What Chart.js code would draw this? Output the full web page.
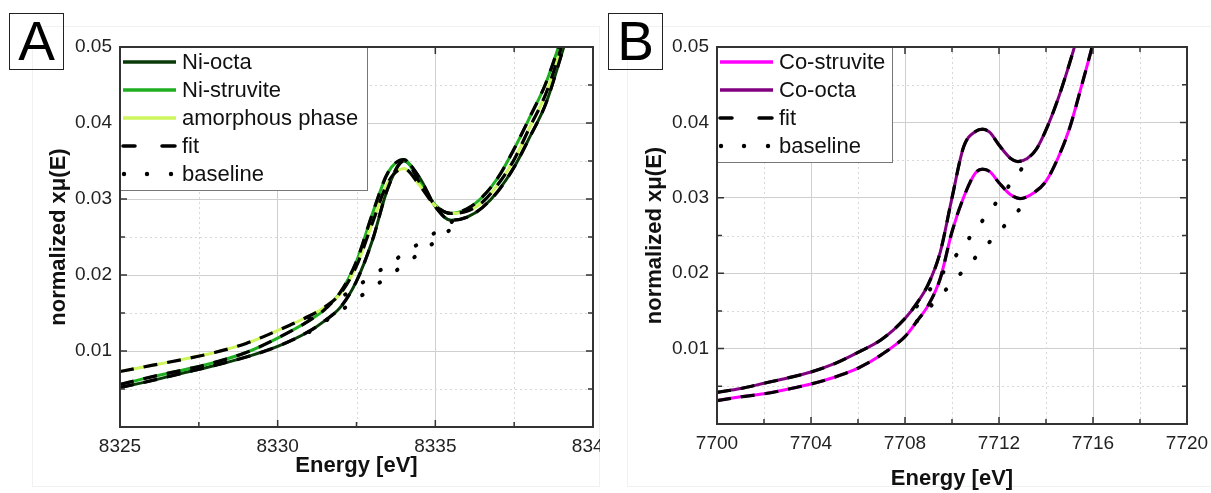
<!DOCTYPE html>
<html>
<head>
<meta charset="utf-8">
<title>XANES pre-edge fits</title>
<script src="https://cdn.jsdelivr.net/npm/chart.js@4.4.1/dist/chart.umd.min.js"></script>
<style>
  body { margin: 0; background: #fff; width: 1211px; height: 493px; position: relative; overflow: hidden; font-family: "Liberation Sans", Arial, sans-serif; }
  canvas { position: absolute; top: 0; }
  #chartA { left: 0; }
  #chartB { left: 600px; }
  .panel { position: absolute; border: 1px solid #f1f1f1; }
  .tag { position: absolute; top: 13px; width: 53px; height: 55px; border: 1.5px solid #222; font-size: 55px; line-height: 55px; text-align: center; color: #000; }
</style>
</head>
<body>
<div class="panel" style="left:32px; top:26px; width:566px; height:459px;"></div>
<div class="panel" style="left:627px; top:26px; width:600px; height:459px;"></div>
<canvas id="chartA" width="600" height="493"></canvas>
<canvas id="chartB" width="611" height="493"></canvas>
<div class="tag" style="left:9px;">A</div>
<div class="tag" style="left:608px;">B</div>
<script>
// ---- panel A : Ni K-edge ----
const niEnergy = [8325, 8326, 8327, 8328, 8329, 8330, 8331, 8331.5, 8332, 8332.5, 8333, 8333.5,
    8334, 8334.5, 8335, 8335.5, 8336, 8336.5, 8337, 8337.5, 8338, 8338.5, 8339, 8339.5];
const niOcta = [0.0052, 0.0061, 0.0071, 0.0081, 0.0092, 0.0106, 0.0126, 0.0140, 0.0158, 0.0192, 0.0245, 0.0315,
    0.0350, 0.0328, 0.0290, 0.0272, 0.0276, 0.0289, 0.0311, 0.0342, 0.0382, 0.0425, 0.0490, 0.0560];
const niStruvite = [0.0056, 0.0066, 0.0075, 0.0085, 0.0098, 0.0117, 0.0140, 0.0155, 0.0178, 0.0218, 0.0280, 0.0335,
    0.0352, 0.0322, 0.0292, 0.0281, 0.0287, 0.0303, 0.0329, 0.0366, 0.0408, 0.0452, 0.0512, 0.0580];
const niAmorphous = [0.0073, 0.0081, 0.0089, 0.0098, 0.0110, 0.0127, 0.0146, 0.0158, 0.0176, 0.0212, 0.0268, 0.0322,
    0.0340, 0.0318, 0.0291, 0.0281, 0.0284, 0.0296, 0.0320, 0.0352, 0.0395, 0.0438, 0.0500, 0.0570];
const niBaseEnergy = [8331, 8332, 8333, 8334, 8335, 8335.6];
const niBaseUpper = [0.0143, 0.0170, 0.0199, 0.0228, 0.0256, 0.0272];
const niBaseLower = [0.0125, 0.0153, 0.0183, 0.0213, 0.0244, 0.0264];
const niXTicks = [8325, 8330, 8335, 8340];

// ---- panel B : Co K-edge ----
const coOctaEnergy = [7700, 7701, 7702, 7703, 7704, 7705, 7706, 7707, 7708, 7708.5, 7709, 7709.5, 7710,
    7710.5, 7711, 7711.3, 7711.6, 7712, 7712.5, 7712.8, 7713.2, 7713.6, 7714, 7714.5, 7715, 7715.3, 7715.6];
const coOcta = [0.0042, 0.0047, 0.0054, 0.0061, 0.0069, 0.0080, 0.0095, 0.0112, 0.0140, 0.0160, 0.0186, 0.0228, 0.0300,
    0.0368, 0.0388, 0.0391, 0.0387, 0.0370, 0.0352, 0.0348, 0.0352, 0.0365, 0.0390, 0.0430, 0.0478, 0.0510, 0.0545];
const coStruviteEnergy = [7700, 7701, 7702, 7703, 7704, 7705, 7706, 7707, 7708, 7708.5, 7709, 7709.5, 7710,
    7710.5, 7711, 7711.3, 7711.6, 7712, 7712.5, 7712.9, 7713.5, 7714, 7714.5, 7715, 7715.5, 7716, 7716.3];
const coStruvite = [0.0031, 0.0036, 0.0040, 0.0046, 0.0053, 0.0062, 0.0074, 0.0092, 0.0116, 0.0136, 0.0158, 0.0193, 0.0255,
    0.0301, 0.0333, 0.0338, 0.0335, 0.0320, 0.0304, 0.0299, 0.0307, 0.0322, 0.0352, 0.0392, 0.0447, 0.0505, 0.0545];
const coBaseOctaEnergy = [7708.5, 7709.5, 7710.5, 7711.5, 7712.5, 7713];
const coBaseOcta = [0.0156, 0.0196, 0.0237, 0.0278, 0.0319, 0.0340];
const coBaseStruviteEnergy = [7708.5, 7709, 7710, 7711, 7712, 7713];
const coBaseStruvite = [0.0136, 0.0153, 0.0187, 0.0221, 0.0255, 0.0289];
const coXTicks = [7700, 7704, 7708, 7712, 7716, 7720];

const muTicks = [0, 0.01, 0.02, 0.03, 0.04, 0.05];

const FONT = '"Liberation Sans", Arial, sans-serif';

function pts(xs, ys) {
    return xs.map((x, i) => ({ x: x, y: ys[i] }));
}
function curve(xs, ys, color) {
    return { data: pts(xs, ys), borderColor: color, borderWidth: 3, pointRadius: 0,
        cubicInterpolationMode: 'monotone', fill: false, clip: 0 };
}
function fit(xs, ys) {
    return { data: pts(xs, ys), borderColor: '#000', borderWidth: 3.2, borderDash: [14, 10], pointRadius: 0,
        cubicInterpolationMode: 'monotone', fill: false, clip: 0 };
}
function baseline(xs, ys) {
    return { data: pts(xs, ys), borderColor: '#000', borderWidth: 4, borderDash: [0.5, 21], borderCapStyle: 'round',
        pointRadius: 0, tension: 0, fill: false, clip: 0 };
}
function midpoints(arr) {
    const out = [];
    for (let i = 0; i < arr.length - 1; i++) out.push((arr[i] + arr[i + 1]) / 2);
    return out;
}

// minor grid, inward ticks, frame and the boxed legend
const framePlugin = {
    id: 'frame',
    beforeDatasetsDraw(chart, args, opts) {
        const { ctx, chartArea: a, scales: { x, y } } = chart;
        ctx.save();
        ctx.strokeStyle = '#d8d8d8';
        ctx.lineWidth = 1;
        ctx.setLineDash([2, 3]);
        opts.minorX.forEach(v => {
            const px = Math.round(x.getPixelForValue(v)) + 0.5;
            ctx.beginPath(); ctx.moveTo(px, a.top); ctx.lineTo(px, a.bottom); ctx.stroke();
        });
        opts.minorY.forEach(v => {
            const py = Math.round(y.getPixelForValue(v)) + 0.5;
            ctx.beginPath(); ctx.moveTo(a.left, py); ctx.lineTo(a.right, py); ctx.stroke();
        });
        ctx.restore();
    },
    afterDatasetsDraw(chart, args, opts) {
        const { ctx, chartArea: a, scales: { x, y } } = chart;
        ctx.save();
        ctx.strokeStyle = '#333';
        ctx.lineWidth = 1.5;
        const tickX = (v, len) => {
            const px = x.getPixelForValue(v);
            ctx.beginPath();
            ctx.moveTo(px, a.bottom); ctx.lineTo(px, a.bottom - len);
            ctx.moveTo(px, a.top); ctx.lineTo(px, a.top + len);
            ctx.stroke();
        };
        const tickY = (v, len) => {
            const py = y.getPixelForValue(v);
            ctx.beginPath();
            ctx.moveTo(a.left, py); ctx.lineTo(a.left + len, py);
            ctx.moveTo(a.right, py); ctx.lineTo(a.right - len, py);
            ctx.stroke();
        };
        opts.majorX.forEach(v => tickX(v, 7));
        opts.minorX.forEach(v => tickX(v, 5));
        muTicks.forEach(v => tickY(v, 7));
        opts.minorY.forEach(v => tickY(v, 5));

        // legend box
        const lg = opts.legend;
        const bx = a.left, by = a.top;
        ctx.fillStyle = '#fff';
        ctx.fillRect(bx, by, lg.width, lg.height);
        ctx.strokeStyle = '#777';
        ctx.lineWidth = 1;
        ctx.strokeRect(bx + 0.5, by + 0.5, lg.width, lg.height);

        ctx.font = '22px ' + FONT;
        ctx.textBaseline = 'middle';
        ctx.textAlign = 'left';
        lg.items.forEach((it, i) => {
            const ry = by + 15 + i * 28;
            ctx.strokeStyle = it.color;
            ctx.lineWidth = 3.5;
            ctx.setLineDash([]);
            if (it.kind === 'solid') {
                ctx.beginPath(); ctx.moveTo(bx + 3, ry); ctx.lineTo(bx + 56, ry); ctx.stroke();
            } else if (it.kind === 'dash') {
                ctx.lineCap = 'round';
                ctx.beginPath();
                ctx.moveTo(bx + 3, ry); ctx.lineTo(bx + 15, ry);
                ctx.moveTo(bx + 42, ry); ctx.lineTo(bx + 55, ry);
                ctx.stroke();
            } else {
                ctx.fillStyle = it.color;
                [4, 27, 51].forEach(dx => {
                    ctx.beginPath(); ctx.arc(bx + dx, ry, 2.2, 0, Math.PI * 2); ctx.fill();
                });
            }
            ctx.fillStyle = '#111';
            ctx.fillText(it.label, bx + 62, ry + 1);
        });

        // axis frame
        ctx.setLineDash([]);
        ctx.strokeStyle = '#333';
        ctx.lineWidth = 2;
        ctx.strokeRect(a.left, a.top, a.right - a.left, a.bottom - a.top);
        ctx.restore();
    }
};

function buildChart(id, cfg) {
    const zeroPad = s => { s.paddingLeft = 0; s.paddingRight = 0; s.paddingTop = 0; s.paddingBottom = 0; };
    return new Chart(document.getElementById(id), {
        type: 'line',
        data: { datasets: cfg.datasets },
        options: {
            responsive: false,
            animation: false,
            layout: { padding: { left: 0, top: 47, right: cfg.padRight, bottom: 0 } },
            plugins: {
                legend: { display: false },
                tooltip: { enabled: false },
                frame: {
                    majorX: cfg.xTicks,
                    minorX: midpoints(cfg.xTicks),
                    minorY: midpoints(muTicks),
                    legend: cfg.legend
                }
            },
            scales: {
                x: {
                    type: 'linear',
                    min: cfg.xTicks[0],
                    max: cfg.xTicks[cfg.xTicks.length - 1],
                    afterBuildTicks: s => { s.ticks = cfg.xTicks.map(v => ({ value: v })); },
                    afterFit: s => { s.height = cfg.xHeight; zeroPad(s); },
                    grid: { color: '#cfcfcf', lineWidth: 1, drawTicks: false },
                    border: { display: false },
                    ticks: { autoSkip: false, maxRotation: 0, padding: 8, color: '#222',
                        font: { size: 19, family: FONT }, callback: v => String(v) },
                    title: { display: true, text: 'Energy [eV]', color: '#111',
                        font: { size: 22, weight: 'bold', family: FONT }, padding: { top: 0, bottom: cfg.xTitlePad } }
                },
                y: {
                    type: 'linear',
                    min: 0,
                    max: 0.05,
                    afterBuildTicks: s => { s.ticks = muTicks.map(v => ({ value: v })); },
                    afterFit: s => { s.width = cfg.yWidth; zeroPad(s); },
                    grid: { color: '#cfcfcf', lineWidth: 1, drawTicks: false },
                    border: { display: false },
                    ticks: { autoSkip: false, padding: 8, color: '#222',
                        font: { size: 19, family: FONT }, callback: v => (v === 0 ? '' : v.toFixed(2)) },
                    title: { display: true, text: 'normalized xμ(E)', color: '#111',
                        font: { size: 22, weight: 'bold', family: FONT }, padding: { top: cfg.yTitlePad, bottom: 0 } }
                }
            }
        },
        plugins: [framePlugin]
    });
}

const niOctaColor = '#083a08', niStruviteColor = '#1fae1f', niAmorphousColor = '#cdf65c';
buildChart('chartA', {
    padRight: 7, xHeight: 66, yWidth: 120, xTitlePad: 14, yTitlePad: 46,
    xTicks: niXTicks,
    datasets: [
        baseline(niBaseEnergy, niBaseUpper),
        baseline(niBaseEnergy, niBaseLower),
        fit(niEnergy, niOcta),
        fit(niEnergy, niStruvite),
        fit(niEnergy, niAmorphous),
        curve(niEnergy, niAmorphous, niAmorphousColor),
        curve(niEnergy, niStruvite, niStruviteColor),
        curve(niEnergy, niOcta, niOctaColor)
    ],
    legend: {
        width: 247, height: 143,
        items: [
            { label: 'Ni-octa', color: niOctaColor, kind: 'solid' },
            { label: 'Ni-struvite', color: niStruviteColor, kind: 'solid' },
            { label: 'amorphous phase', color: niAmorphousColor, kind: 'solid' },
            { label: 'fit', color: '#000', kind: 'dash' },
            { label: 'baseline', color: '#000', kind: 'dot' }
        ]
    }
});

const coStruviteColor = '#ff00ff', coOctaColor = '#800080';
buildChart('chartB', {
    padRight: 24, xHeight: 69, yWidth: 117, xTitlePad: 1, yTitlePad: 42,
    xTicks: coXTicks,
    datasets: [
        baseline(coBaseOctaEnergy, coBaseOcta),
        baseline(coBaseStruviteEnergy, coBaseStruvite),
        fit(coOctaEnergy, coOcta),
        fit(coStruviteEnergy, coStruvite),
        curve(coStruviteEnergy, coStruvite, coStruviteColor),
        curve(coOctaEnergy, coOcta, coOctaColor)
    ],
    legend: {
        width: 175, height: 115,
        items: [
            { label: 'Co-struvite', color: coStruviteColor, kind: 'solid' },
            { label: 'Co-octa', color: coOctaColor, kind: 'solid' },
            { label: 'fit', color: '#000', kind: 'dash' },
            { label: 'baseline', color: '#000', kind: 'dot' }
        ]
    }
});
</script>
</body>
</html>
